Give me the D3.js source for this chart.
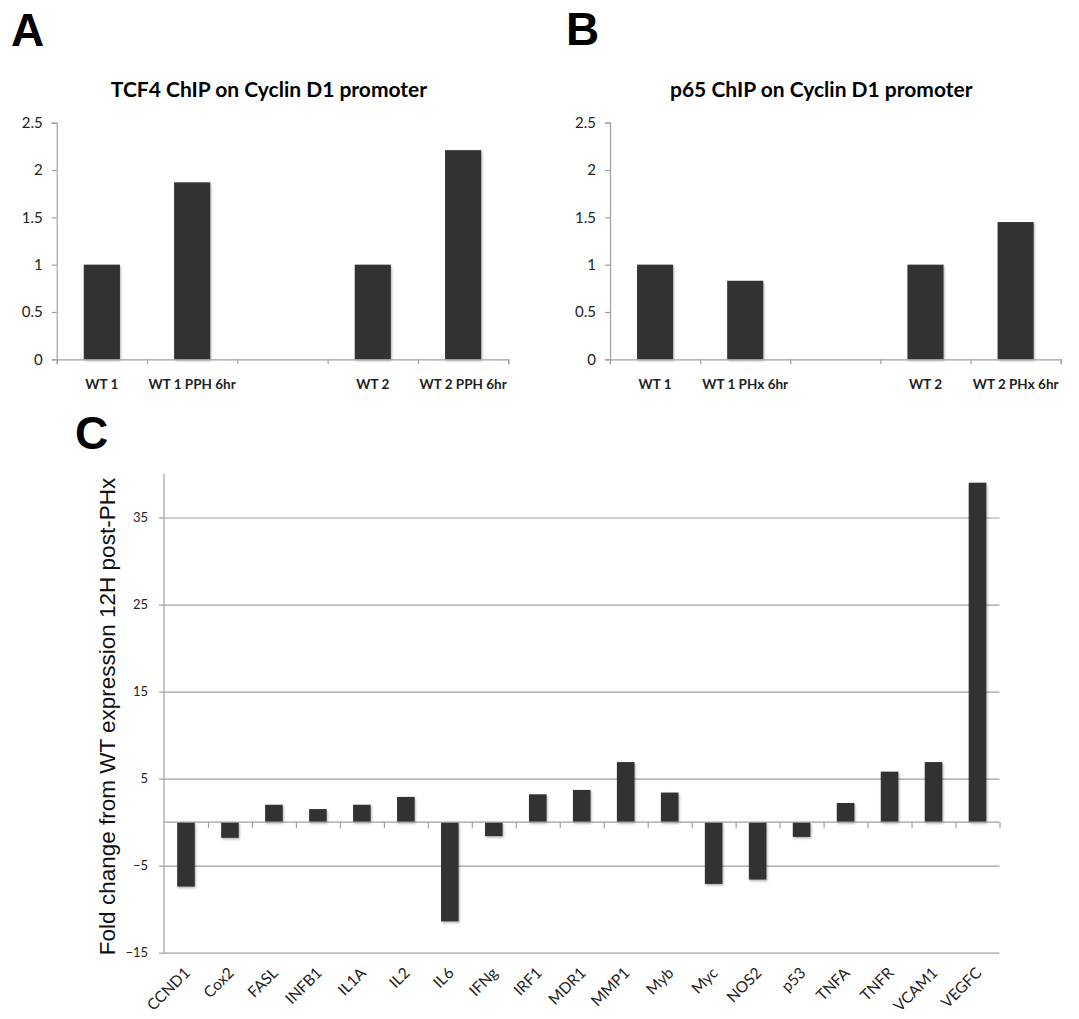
<!DOCTYPE html>
<html>
<head>
<meta charset="utf-8">
<script src="https://cdn.jsdelivr.net/npm/d3@7"></script>
<style>
  html, body { margin: 0; padding: 0; background: #fff; }
  svg { display: block; }
  .ax path, .ax line { stroke: #a0a0a0; stroke-width: 1.2; }
  .ax text { fill: #222; }
</style>
</head>
<body>
<script>
// panel A / B data (ChIP, relative enrichment)
var tcf4Categories = ["WT 1", "WT 1 PPH 6hr", "", "WT 2", "WT 2 PPH 6hr"];
var tcf4Values = [1, 1.87, null, 1, 2.21];
var p65Categories = ["WT 1", "WT 1 PHx 6hr", "", "WT 2", "WT 2 PHx 6hr"];
var p65Values = [1, 0.83, null, 1, 1.45];
var chipTicks = [0, 0.5, 1, 1.5, 2, 2.5];

// panel C data (fold change, 12H post-PHx)
var genes = ["CCND1", "Cox2", "FASL", "INFB1", "IL1A", "IL2", "IL6", "IFNg", "IRF1", "MDR1",
             "MMP1", "Myb", "Myc", "NOS2", "p53", "TNFA", "TNFR", "VCAM1", "VEGFC"];
var foldValues = [-7.4, -1.8, 2.0, 1.5, 2.0, 2.9, -11.4, -1.6, 3.2, 3.7,
                  6.9, 3.4, -7.1, -6.6, -1.7, 2.2, 5.8, 6.9, 39.0];
var foldTicks = [-15, -5, 5, 15, 25, 35];

var barColor = "#323232";
var calibri = "Lato, 'Open Sans', sans-serif";

var svg = d3.select("body").append("svg").attr("width", 1079).attr("height", 1019);

var defs = svg.append("defs");
defs.append("filter").attr("id", "shadow")
  .attr("x", "-20%").attr("y", "-20%").attr("width", "150%").attr("height", "150%")
  .append("feDropShadow")
  .attr("dx", 1).attr("dy", 1.5).attr("stdDeviation", 1)
  .attr("flood-color", "#000").attr("flood-opacity", 0.3);

function letter(txt, x, y) {
  svg.append("text").attr("x", x).attr("y", y).text(txt)
    .style("font-family", "'Liberation Sans', Arial, sans-serif")
    .style("font-weight", "bold").style("font-size", "46px").style("fill", "#000");
}

function drawChip(cats, vals, title, x0, x1, titleX) {
  var yBot = 359.3, yTop = 122.7;
  var g = svg.append("g");
  var x = d3.scaleBand().domain(d3.range(cats.length)).range([x0, x1])
    .paddingInner(0.6).paddingOuter(0.3);
  var y = d3.scaleLinear().domain([0, 2.5]).range([yBot, yTop]);

  g.append("text").attr("x", titleX).attr("y", 97).attr("text-anchor", "middle")
    .text(title)
    .style("font-family", calibri).style("font-weight", "bold").style("font-size", "21px");

  g.selectAll("rect.bar").data(vals.map(function (v, i) { return {v: v, i: i}; })
      .filter(function (d) { return d.v != null; }))
    .enter().append("rect").attr("class", "bar")
    .attr("x", function (d) { return x(d.i); })
    .attr("width", x.bandwidth())
    .attr("y", function (d) { return y(d.v); })
    .attr("height", function (d) { return y(0) - y(d.v); })
    .attr("fill", barColor).attr("filter", "url(#shadow)");

  var ya = g.append("g").attr("class", "ax").attr("transform", "translate(" + x0 + ",0)")
    .call(d3.axisLeft(y).tickValues(chipTicks).tickSize(5).tickPadding(9)
      .tickFormat(function (d) { return String(d); }));
  ya.selectAll("text").style("font-family", calibri).style("font-size", "15px");

  // category boundary ticks
  var xb = d3.scaleLinear().domain([0, cats.length]).range([x0, x1]);
  g.append("g").attr("class", "ax").attr("transform", "translate(0," + yBot + ")")
    .call(d3.axisBottom(xb).tickValues(d3.range(cats.length + 1)).tickSize(5).tickFormat(""));

  var xa = g.append("g").attr("class", "ax").attr("transform", "translate(0," + yBot + ")")
    .call(d3.axisBottom(x).tickSize(0).tickPadding(20).tickFormat(function (i) { return cats[i]; }));
  xa.select(".domain").remove();
  xa.selectAll("text").style("font-family", calibri).style("font-weight", "bold").style("font-size", "13.5px");
}

letter("A", 11, 46);
letter("B", 566, 45);
letter("C", 75, 449);

drawChip(tcf4Categories, tcf4Values, "TCF4 ChIP on Cyclin D1 promoter", 56.7, 508.3, 269);
drawChip(p65Categories, p65Values, "p65 ChIP on Cyclin D1 promoter", 610, 1060.7, 821.3);

// panel C
(function () {
  var x0 = 164, x1 = 999.5, yTop = 474, yBot = 952.7;
  var g = svg.append("g");
  var x = d3.scaleBand().domain(genes).range([x0, x1]).paddingInner(0.6).paddingOuter(0.3);
  var y = d3.scaleLinear().domain([-15, 40]).range([yBot, yTop]);

  // grid lines
  var grid = g.append("g").attr("class", "ax").attr("transform", "translate(" + x1 + ",0)")
    .call(d3.axisLeft(y).tickValues(foldTicks).tickSize(x1 - x0).tickFormat(""));
  grid.select(".domain").remove();

  var ya = g.append("g").attr("class", "ax").attr("transform", "translate(" + x0 + ",0)")
    .call(d3.axisLeft(y).tickValues(foldTicks).tickSize(5).tickPadding(11));
  ya.select(".domain").attr("d", "M0," + yTop + "V" + yBot);
  ya.selectAll("text").style("font-family", calibri).style("font-size", "13px");

  g.selectAll("rect.bar").data(foldValues.map(function (v, i) { return {g: genes[i], v: v}; }))
    .enter().append("rect").attr("class", "bar")
    .attr("x", function (d) { return x(d.g); })
    .attr("width", x.bandwidth())
    .attr("y", function (d) { return y(Math.max(0, d.v)); })
    .attr("height", function (d) { return Math.abs(y(d.v) - y(0)); })
    .attr("fill", barColor).attr("filter", "url(#shadow)");

  var xb = d3.scaleLinear().domain([0, genes.length]).range([x0, x1]);
  g.append("g").attr("class", "ax").attr("transform", "translate(0," + y(0) + ")")
    .call(d3.axisBottom(xb).tickValues(d3.range(1, genes.length + 1)).tickSize(6).tickFormat(""))
    .select(".domain").attr("d", "M" + x0 + ",0H" + x1);

  g.selectAll("text.gene").data(genes).enter().append("text").attr("class", "gene")
    .attr("transform", function (d) {
      return "translate(" + (x(d) + x.bandwidth() / 2 + 5) + ",974) rotate(-45)";
    })
    .attr("text-anchor", "end")
    .text(function (d) { return d; })
    .style("font-family", calibri).style("font-size", "15.5px").style("fill", "#222");

  g.append("text")
    .attr("transform", "translate(115,716.5) rotate(-90)")
    .attr("text-anchor", "middle")
    .text("Fold change from WT expression 12H post-PHx")
    .style("font-family", "'Liberation Sans', Arial, sans-serif").style("font-size", "22.5px")
    .style("fill", "#111");
})();
</script>
</body>
</html>
